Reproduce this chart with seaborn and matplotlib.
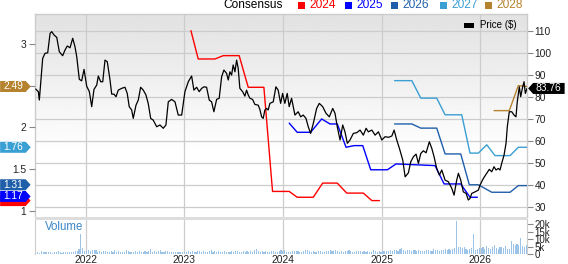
import numpy as np
import pandas as pd
import matplotlib
matplotlib.use("Agg")
import matplotlib.pyplot as plt
import seaborn as sns
from matplotlib.path import Path
from matplotlib.patches import Rectangle
import matplotlib.dates as mdates

# ---------------- data (dates as fractional years) ----------------
price_t = [2021.489, 2021.516, 2021.526, 2021.560, 2021.584, 2021.611, 2021.635, 2021.652, 2021.675, 2021.703,
           2021.729, 2021.763, 2021.787, 2021.810, 2021.838, 2021.865, 2021.888, 2021.906, 2021.932, 2021.956,
           2021.980, 2022.007, 2022.034, 2022.058, 2022.081, 2022.109, 2022.125, 2022.149, 2022.170, 2022.193,
           2022.216, 2022.244, 2022.261, 2022.284, 2022.305, 2022.328, 2022.362, 2022.396, 2022.419, 2022.439,
           2022.464, 2022.480, 2022.508, 2022.531, 2022.555, 2022.582, 2022.609, 2022.632, 2022.657, 2022.683,
           2022.718, 2022.751, 2022.785, 2022.812, 2022.836, 2022.870, 2022.904, 2022.937, 2022.972, 2023.005,
           2023.039, 2023.073, 2023.096, 2023.124, 2023.150, 2023.175, 2023.198, 2023.225, 2023.252, 2023.276,
           2023.299, 2023.327, 2023.353, 2023.378, 2023.401, 2023.428, 2023.445, 2023.462, 2023.479, 2023.495,
           2023.513, 2023.530, 2023.546, 2023.563, 2023.591, 2023.614, 2023.631, 2023.648, 2023.665, 2023.692,
           2023.716, 2023.749, 2023.766, 2023.784, 2023.800, 2023.817, 2023.835, 2023.851, 2023.868, 2023.902,
           2023.929, 2023.952, 2023.977, 2023.997, 2024.020, 2024.044, 2024.064, 2024.088, 2024.122, 2024.155,
           2024.180, 2024.206, 2024.234, 2024.257, 2024.281, 2024.308, 2024.342, 2024.369, 2024.403, 2024.437,
           2024.470, 2024.505, 2024.528, 2024.551, 2024.579, 2024.606, 2024.629, 2024.653, 2024.680, 2024.714,
           2024.748, 2024.782, 2024.815, 2024.843, 2024.866, 2024.901, 2024.934, 2024.968, 2025.002, 2025.036,
           2025.069, 2025.104, 2025.127, 2025.154, 2025.181, 2025.215, 2025.239, 2025.272, 2025.296, 2025.323,
           2025.350, 2025.374, 2025.398, 2025.424, 2025.452, 2025.485, 2025.510, 2025.533, 2025.560, 2025.587,
           2025.611, 2025.645, 2025.678, 2025.713, 2025.736, 2025.763, 2025.780, 2025.804, 2025.830, 2025.858,
           2025.881, 2025.898, 2025.916, 2025.949, 2025.983, 2026.000, 2026.034, 2026.068, 2026.094, 2026.119,
           2026.142, 2026.162, 2026.186, 2026.203, 2026.220, 2026.244, 2026.264, 2026.277, 2026.297, 2026.322,
           2026.345, 2026.365, 2026.378, 2026.399, 2026.413, 2026.433, 2026.447, 2026.460, 2026.477]
price_v = [83.5, 82.3, 78.5, 97.4, 99.7, 99.9, 108.7, 109.5, 108.0, 106.9,
           100.4, 98.6, 101.2, 103.0, 102.2, 106.5, 102.7, 98.1, 87.9, 87.2,
           92.4, 84.8, 82.3, 75.5, 83.3, 85.3, 89.4, 86.8, 86.8, 96.6,
           95.9, 87.6, 81.2, 81.2, 80.0, 83.0, 83.8, 84.3, 81.5, 75.5,
           74.0, 70.2, 76.2, 78.5, 84.3, 83.0, 80.8, 77.0, 70.2, 69.4,
           66.4, 67.2, 65.7, 67.2, 77.7, 78.8, 77.7, 71.7, 71.7, 82.3,
           86.8, 89.4, 83.0, 84.3, 82.3, 83.8, 84.5, 84.3, 78.5, 77.7,
           73.2, 78.8, 79.3, 89.1, 92.1, 90.6, 87.6, 91.3, 89.8, 94.4,
           91.3, 96.6, 92.9, 83.8, 82.3, 80.3, 83.0, 80.8, 79.3, 78.8,
           76.5, 76.2, 74.3, 70.9, 70.2, 74.0, 74.7, 74.0, 77.0, 77.7,
           84.5, 83.0, 77.0, 81.5, 77.0, 81.5, 75.5, 79.3, 71.7, 73.2,
           70.9, 71.7, 70.2, 66.4, 63.4, 67.9, 74.7, 77.0, 75.5, 72.5,
           70.9, 74.7, 72.5, 66.4, 60.4, 67.2, 64.1, 58.9, 60.4, 63.4,
           63.7, 64.9, 62.6, 65.7, 64.1, 64.9, 62.6, 64.1, 60.4, 61.9,
           61.6, 62.2, 64.9, 60.4, 56.6, 51.3, 43.7, 45.5, 50.5, 52.8,
           54.0, 49.8, 54.3, 55.5, 54.6, 59.6, 56.6, 52.8, 47.5, 44.5,
           46.8, 42.2, 41.5, 38.5, 35.4, 42.2, 45.3, 42.2, 36.9, 36.2,
           33.2, 33.9, 36.2, 36.9, 37.7, 40.0, 43.0, 45.3, 47.1, 46.0,
           48.3, 46.8, 47.5, 46.8, 49.8, 53.6, 58.9, 66.4, 73.2, 73.2,
           71.7, 70.9, 77.7, 84.5, 80.0, 84.5, 86.8, 81.5, 83.76]

c2024_t = [2023.066, 2023.140, 2023.310, 2023.394, 2023.556, 2023.648, 2023.807, 2023.895, 2024.064,
           2024.145, 2024.308, 2024.403, 2024.551, 2024.647, 2024.815, 2024.901, 2024.978]
c2024_v = [3.16, 2.82, 2.82, 2.86, 2.86, 2.48, 2.48, 1.23, 1.23, 1.16, 1.16, 1.33, 1.33, 1.21, 1.21, 1.12, 1.12]

c2025_t = [2024.064, 2024.145, 2024.281, 2024.393, 2024.477, 2024.551, 2024.640, 2024.721, 2024.809,
           2024.890, 2025.059, 2025.147, 2025.543, 2025.635, 2025.804, 2025.898, 2025.973]
c2025_v = [2.05, 1.94, 1.94, 2.10, 2.04, 2.04, 1.76, 1.78, 1.78, 1.49, 1.49, 1.56, 1.54, 1.32, 1.32, 1.16, 1.16]

c2026_t = [2025.132, 2025.307, 2025.398, 2025.560, 2025.645, 2025.804, 2025.891, 2025.983, 2026.119,
           2026.305, 2026.389, 2026.474]
c2026_v = [2.04, 2.04, 1.99, 1.99, 1.68, 1.68, 1.31, 1.31, 1.22, 1.22, 1.30, 1.30]

c2027_t = [2025.132, 2025.307, 2025.398, 2025.560, 2025.645, 2025.814, 2025.898, 2025.983, 2026.068,
           2026.152, 2026.305, 2026.389, 2026.474]
c2027_v = [2.56, 2.56, 2.35, 2.35, 2.15, 2.15, 1.69, 1.69, 1.79, 1.66, 1.66, 1.76, 1.76]

c2028_t = [2026.142, 2026.297, 2026.389, 2026.474]
c2028_v = [2.20, 2.20, 2.50, 2.49]

series_names = ["2024", "2025", "2026", "2027", "2028"]
series_colors = ["#FF0000", "#0000FF", "#1F5FAA", "#3A9FD3", "#B5822E"]
last_eps = [1.12, 1.17, 1.31, 1.76, 2.49]
last_price = 83.76

# weekly volume (thousands), starting end of June 2021
vol_2021 = [1.2, 1.5, 1.0, 1.8, 1.3, 1.1, 1.6, 1.4, 1.2, 1.0, 1.5, 1.3, 1.7, 1.2, 1.0, 1.4, 1.1, 1.3, 1.6, 1.2,
            1.5, 1.9, 2.2, 3.5, 13.8, 4.0, 1.8]
vol_2022 = [2.2, 2.6, 1.8, 3.0, 2.4, 2.8, 1.6, 2.0, 1.4, 1.8, 2.2, 1.5, 1.3, 1.9, 1.6, 2.4, 1.2, 1.7, 1.4, 1.6,
            1.3, 2.5, 1.8, 1.5, 1.2, 1.6, 1.9, 1.4, 1.7, 1.3, 1.6, 2.1, 1.5, 1.8, 3.2, 1.6, 2.0, 1.4, 1.7, 2.6,
            1.3, 1.5, 2.2, 1.8, 1.4, 1.2, 1.6, 1.3, 1.1, 1.5, 1.2, 1.4]
vol_2023 = [1.6, 1.3, 1.8, 1.4, 2.0, 1.5, 1.2, 1.7, 1.9, 1.4, 2.2, 1.6, 1.3, 1.8, 3.0, 1.5, 1.7, 1.4, 2.1, 1.6,
            1.3, 1.8, 1.5, 1.2, 1.6, 1.9, 1.4, 1.7, 2.0, 1.3, 1.5, 1.8, 1.6, 2.3, 1.4, 1.7, 1.5, 2.6, 3.2, 1.9,
            1.6, 2.0, 1.4, 1.8, 1.5, 1.3, 1.7, 2.2, 1.6, 1.4, 1.9, 2.4]
vol_2024 = [1.8, 2.5, 1.5, 1.4, 1.6, 1.8, 2.2, 1.9, 1.7, 1.5, 1.6, 2.0, 2.8, 2.4, 1.8, 1.6, 2.0, 1.5, 1.4, 1.9,
            2.2, 1.6, 1.3, 1.8, 2.0, 2.8, 2.2, 1.7, 2.5, 1.9, 1.6, 2.2, 1.5, 1.7, 1.8, 2.6, 2.0, 1.6, 1.5, 1.8,
            2.0, 1.7, 1.4, 2.2, 1.6, 1.9, 1.5, 1.4, 2.4, 1.8, 1.6, 2.0]
vol_2025 = [1.5, 1.8, 2.2, 2.0, 1.8, 2.5, 2.2, 2.8, 2.6, 2.0, 3.2, 3.8, 2.4, 2.0, 2.6, 2.8, 2.2, 3.0, 2.4, 2.0,
            2.6, 2.2, 1.8, 2.0, 2.4, 2.8, 1.9, 2.2, 3.5, 3.0, 2.6, 2.2, 2.8, 2.5, 3.2, 3.0, 3.5, 3.0, 3.2, 3.8,
            22.0, 4.5, 4.8, 4.0, 5.0, 3.5, 2.8, 3.2, 4.0, 13.8, 3.0, 3.6]
vol_2026 = [4.2, 3.8, 4.5, 3.6, 5.5, 4.0, 3.2, 4.8, 6.0, 4.2, 3.5, 5.0, 4.6, 3.8, 5.2, 3.5, 3.2, 8.5, 6.5, 5.8,
            7.0, 6.0, 10.5, 5.5, 4.8, 6.2]

x_start, x_end = 2021.482, 2026.477
year_ticks = [2022, 2023, 2024, 2025, 2026]
price_ticks = [30, 40, 50, 60, 70, 80, 90, 100, 110]
eps_ticks = [1, 1.5, 2, 2.5, 3]
eps_tick_labels = ["1", "1.5", "2", "2.5", "3"]
vol_ticks = [0, 5, 10, 15, 20]
vol_tick_labels = ["0", "5k", "10k", "15k", "20k"]


def fy(y):
    yr = int(np.floor(y))
    start = pd.Timestamp(yr, 1, 1)
    days = (pd.Timestamp(yr + 1, 1, 1) - start).days
    return start + pd.Timedelta(days=(y - yr) * days)


price_df = pd.DataFrame({"date": [fy(t) for t in price_t], "price": price_v})
rows = []
for name, ts, vs in zip(series_names, [c2024_t, c2025_t, c2026_t, c2027_t, c2028_t],
                        [c2024_v, c2025_v, c2026_v, c2027_v, c2028_v]):
    for t, v in zip(ts, vs):
        rows.append({"date": fy(t), "eps": v, "series": name})
cons_df = pd.DataFrame(rows)
vol = vol_2021 + vol_2022 + vol_2023 + vol_2024 + vol_2025 + vol_2026
vol_df = pd.DataFrame({"date": pd.date_range("2021-06-28", periods=len(vol), freq="7D"), "vol": vol})

# ---------------- style ----------------
sns.set_style("white")
plt.rcParams["font.family"] = ["Liberation Sans", "DejaVu Sans"]
GRID = "#CCCCCC"
TXT = "#222222"

W, H = 568, 264
fig = plt.figure(figsize=(W / 100, H / 100), dpi=100)


def fx(px):
    return px / W


def fyp(py):
    return 1 - py / H


L, R = 35, 527
ax = fig.add_axes([fx(L), fyp(217), fx(R - L), (217 - 14) / H])
vax = fig.add_axes([fx(L), fyp(254), fx(R - L), (254 - 219) / H])

xlim = (fy(x_start), fy(x_end))

# background gradient (grey at top fading to white)
grad = np.linspace(0.885, 1.0, 110)
grad = np.concatenate([grad, np.ones(50)])[:, None]
ax.imshow(grad, cmap="gray", vmin=0, vmax=1, aspect="auto", extent=[0, 1, 0, 1], origin="upper",
          transform=ax.transAxes, zorder=0)

# twins: EPS (left) and price line on top
ax2 = ax.twinx()
ax3 = ax.twinx()

ax.set_xlim(xlim)
ax.set_ylim(25.5, 117.5)
ax.set_yticks(price_ticks)
ax.set_yticklabels([str(v) for v in price_ticks])
ax.yaxis.tick_right()
ax.set_xticks([pd.Timestamp(y, 1, 1) for y in year_ticks])
ax.tick_params(axis="x", length=0, labelbottom=False)
ax.tick_params(axis="y", left=False, labelleft=False, right=True, labelright=True, length=4, width=0.8,
               color="#888888", pad=1.5, labelsize=7.4, labelcolor=TXT)
ax.grid(True, color=GRID, linewidth=0.9)
ax.set_axisbelow(True)
for s in ["top", "left", "right"]:
    ax.spines[s].set_color(GRID)
    ax.spines[s].set_linewidth(1)
ax.spines["bottom"].set_visible(False)

ax2.set_ylim(0.923, 3.36)
ax2.yaxis.tick_left()
ax2.set_yticks(eps_ticks)
ax2.set_yticklabels(eps_tick_labels)
ax2.tick_params(axis="y", left=True, right=False, labelleft=True, labelright=False, length=4.5, width=0.8,
                color="#888888", pad=2, labelsize=7.4, labelcolor=TXT)
for s in ax2.spines.values():
    s.set_visible(False)
sns.lineplot(data=cons_df, x="date", y="eps", hue="series", hue_order=series_names,
             palette=dict(zip(series_names, series_colors)), estimator=None, sort=False,
             linewidth=1.0, legend=False, ax=ax2)
ax2.set_xlabel("")
ax2.set_ylabel("")
ax2.set_xlim(xlim)

ax3.set_ylim(ax.get_ylim())
sns.lineplot(data=price_df, x="date", y="price", color="black", linewidth=0.9,
             estimator=None, sort=False, legend=False, ax=ax3)
ax3.set_axis_off()
ax3.set_xlim(xlim)


# tag-shaped label boxes
def tag(direction):
    def style(x0, y0, width, height, mutation_size):
        padx = 0.28 * mutation_size
        pady = 0.05 * mutation_size
        x0 -= padx
        y0 -= pady
        w = width + 2 * padx
        h = height + 2 * pady
        t = h * 0.45
        if direction == "right":
            v = [(x0, y0), (x0 + w, y0), (x0 + w + t, y0 + h / 2), (x0 + w, y0 + h), (x0, y0 + h), (x0, y0)]
        else:
            v = [(x0, y0), (x0 + w, y0), (x0 + w, y0 + h), (x0, y0 + h), (x0 - t, y0 + h / 2), (x0, y0)]
        return Path(v, closed=True)
    return style


for name, col, val in zip(series_names, series_colors, last_eps):
    tcol = col if name == "2024" else "white"  # 2024 tag sits mostly hidden under the 2025 tag
    ax2.text((3 - L) / (R - L), val, f"{val:.2f}", transform=ax2.get_yaxis_transform(),
             ha="left", va="center", fontsize=7.4, color=tcol, clip_on=False, zorder=10,
             bbox=dict(boxstyle=tag("right"), fc=col, ec="none"))

ax3.text((536 - L) / (R - L), last_price, f"{last_price:.2f}", transform=ax3.get_yaxis_transform(),
         ha="left", va="center", fontsize=7.4, color="white", clip_on=False, zorder=10,
         bbox=dict(boxstyle=tag("left"), fc="black", ec="none"))

# volume panel
vax.bar(vol_df["date"], vol_df["vol"], width=4.2, color="#9CC4E8", edgecolor="none", zorder=2)
vax.set_xlim(xlim)
vax.set_ylim(0, 23.6)
vax.set_xticks([pd.Timestamp(y, 1, 1) for y in year_ticks])
vax.xaxis.set_major_formatter(mdates.DateFormatter("%Y"))
vax.set_yticks(vol_ticks)
vax.set_yticklabels(vol_tick_labels)
vax.yaxis.tick_right()
vax.tick_params(axis="y", right=True, length=4, width=0.8, color="#888888", pad=1.5,
                labelsize=7.0, labelcolor=TXT)
vax.tick_params(axis="x", length=0, pad=1, labelsize=7.4, labelcolor=TXT)
vax.grid(True, axis="x", color=GRID, linewidth=0.9)
vax.set_axisbelow(True)
for s in vax.spines.values():
    s.set_color(GRID)
vax.spines["top"].set_visible(False)
vax.spines["bottom"].set_visible(False)
vax.set_xlabel("")
vax.text(0.02, 0.78, "Volume", transform=vax.transAxes, fontsize=8.3, color="#3A87C8",
         ha="left", va="center")

# separator band
fig.add_artist(Rectangle((fx(L), fyp(219.5)), fx(R - L), 2.5 / H, transform=fig.transFigure,
                         fc="#DDDDDD", ec="none"))

# top legend
fs = 8.6
fig.text(fx(223), fyp(5.5), "Consensus", fontsize=fs, color="black", ha="left", va="center")
sq_x = [297.5, 345, 391, 439.5, 485]
for name, col, sx in zip(series_names, series_colors, sq_x):
    fig.add_artist(Rectangle((fx(sx), fyp(9)), fx(7), 7 / H, transform=fig.transFigure, fc=col, ec="none"))
    fig.text(fx(sx + 11.5), fyp(5.5), name, fontsize=fs, color=col, ha="left", va="center")

# price legend
fig.add_artist(Rectangle((fx(464), fyp(27.5)), fx(10), 5 / H, transform=fig.transFigure, fc="black", ec="none"))
fig.text(fx(480), fyp(25.5), "Price ($)", fontsize=7.0, color="black", ha="left", va="center")

fig.savefig("out.png", dpi=100)
